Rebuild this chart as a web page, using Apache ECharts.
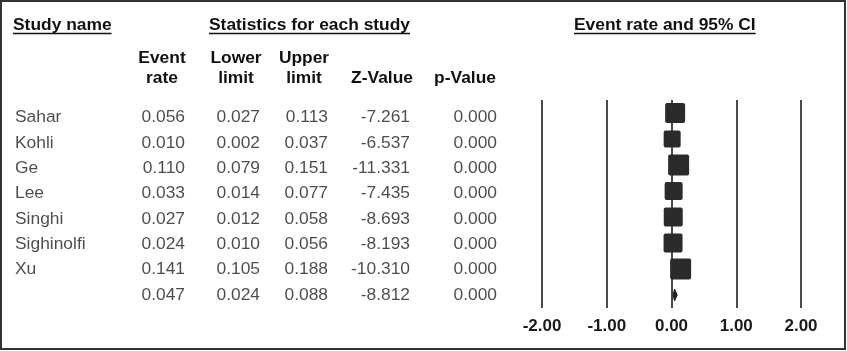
<!DOCTYPE html>
<html>
<head>
<meta charset="utf-8">
<script src="https://cdn.jsdelivr.net/npm/echarts@6/dist/echarts.min.js"></script>
<style>
  html, body { margin: 0; padding: 0; background: #fff; }
  #chart { width: 847px; height: 351px; }
</style>
</head>
<body>
<div id="chart"></div>
<script>
// study rows
const studies = ['Sahar', 'Kohli', 'Ge', 'Lee', 'Singhi', 'Sighinolfi', 'Xu']
const eventRate = [0.056, 0.010, 0.110, 0.033, 0.027, 0.024, 0.141]
const lowerLimit = [0.027, 0.002, 0.079, 0.014, 0.012, 0.010, 0.105]
const upperLimit = [0.113, 0.037, 0.151, 0.077, 0.058, 0.056, 0.188]
const zValue = [-7.261, -6.537, -11.331, -7.435, -8.693, -8.193, -10.310]
const pValue = [0.000, 0.000, 0.000, 0.000, 0.000, 0.000, 0.000]
// relative box weight of each study
const weights = [1.0, 0.85, 1.05, 0.9, 0.95, 0.95, 1.05]

// pooled estimate (last row)
const pooledRate = 0.047
const pooledLower = 0.024
const pooledUpper = 0.088
const pooledZ = -8.812
const pooledP = 0.000

const xTicks = [-2, -1, 0, 1, 2]

const FONT = '"Liberation Sans", Arial, sans-serif'
const FS = 17.4
const BOX = 20

const rows = studies.concat([''])
const chart = echarts.init(document.getElementById('chart'))

function measure(text, weight) {
  const ctx = document.createElement('canvas').getContext('2d')
  ctx.font = weight + ' ' + FS + 'px ' + FONT
  return ctx.measureText(text).width
}

function textEl(text, x, y, align) {
  return {
    type: 'text', x: x, y: y,
    style: {
      text: text, font: 'bold ' + FS + 'px ' + FONT, fill: '#111',
      textAlign: align, align: align, textVerticalAlign: 'middle', verticalAlign: 'middle'
    }
  }
}

function underlined(text, x, y) {
  const w = measure(text, 'bold')
  return [
    textEl(text, x, y, 'left'),
    { type: 'line', shape: { x1: x, y1: y + 8.5, x2: x + w, y2: y + 8.5 }, style: { stroke: '#111', lineWidth: 1.5 } }
  ]
}

// one label column of the table
function column(values, x, align, fmt) {
  return {
    type: 'scatter',
    xAxisIndex: 0, yAxisIndex: 0,
    symbolSize: 0,
    silent: true,
    data: values.map((v, i) => [x, i, v]),
    label: {
      show: true,
      position: [0, 0],
      align: align,
      verticalAlign: 'middle',
      fontFamily: FONT,
      fontSize: FS,
      color: '#1e1e1e',
      formatter: p => fmt(p.data[2])
    }
  }
}

const f3 = v => (v === null ? '' : v.toFixed(3))

const graphics = [].concat(
  underlined('Study name', 13, 25),
  underlined('Statistics for each study', 209, 25),
  underlined('Event rate and 95% CI', 574, 25),
  [
    textEl('Event', 162, 58, 'center'), textEl('rate', 162, 78, 'center'),
    textEl('Lower', 236, 58, 'center'), textEl('limit', 236, 78, 'center'),
    textEl('Upper', 304, 58, 'center'), textEl('limit', 304, 78, 'center'),
    textEl('Z-Value', 382, 78, 'center'),
    textEl('p-Value', 465, 78, 'center'),
    { type: 'rect', shape: { x: 1, y: 1, width: 844, height: 348 }, style: { fill: 'none', stroke: '#333', lineWidth: 2 }, z: 10 }
  ]
)

const option = {
  animation: false,
  backgroundColor: '#fff',
  graphic: graphics,
  grid: [
    { left: 0, right: 0, top: 105, height: 202.4 },
    { left: 542, right: 46, top: 100, height: 208 }
  ],
  xAxis: [
    { gridIndex: 0, type: 'value', min: 0, max: 847, show: false },
    {
      gridIndex: 1, type: 'value',
      min: xTicks[0], max: xTicks[xTicks.length - 1], interval: 1,
      axisLine: { show: false },
      axisTick: { show: false },
      axisLabel: {
        margin: 10,
        fontFamily: FONT, fontSize: 17, fontWeight: 'bold', color: '#1a1a1a',
        formatter: v => v.toFixed(2)
      },
      splitLine: { show: true, lineStyle: { color: '#4a4a4a', width: 2 } }
    }
  ],
  yAxis: [
    { gridIndex: 0, type: 'category', data: rows, inverse: true, show: false },
    { gridIndex: 1, type: 'category', data: rows, inverse: true, show: false }
  ],
  series: [
    column(rows, 15, 'left', v => v),
    column(eventRate.concat([pooledRate]), 185, 'right', f3),
    column(lowerLimit.concat([pooledLower]), 260, 'right', f3),
    column(upperLimit.concat([pooledUpper]), 328, 'right', f3),
    column(zValue.concat([pooledZ]), 410, 'right', f3),
    column(pValue.concat([pooledP]), 497, 'right', f3),
    {
      type: 'custom',
      xAxisIndex: 1, yAxisIndex: 1,
      silent: true,
      data: studies.map((s, i) => [i, eventRate[i], lowerLimit[i], upperLimit[i], weights[i]]),
      encode: { y: 0, x: [1, 2, 3] },
      renderItem: function (params, api) {
        const row = api.value(0)
        const c = api.coord([api.value(1), row])
        const lo = api.coord([api.value(2), row])
        const hi = api.coord([api.value(3), row])
        const s = api.value(4) * BOX
        return {
          type: 'group',
          children: [
            { type: 'line', shape: { x1: lo[0], y1: c[1], x2: hi[0], y2: c[1] }, style: { stroke: '#222', lineWidth: 1 } },
            { type: 'rect', shape: { x: c[0] - s / 2, y: c[1] - s / 2, width: s, height: s, r: 2 }, style: { fill: '#2b2b2b' } }
          ]
        }
      }
    },
    {
      type: 'custom',
      xAxisIndex: 1, yAxisIndex: 1,
      silent: true,
      data: [[studies.length, pooledRate, pooledLower, pooledUpper]],
      encode: { y: 0, x: [1, 2, 3] },
      renderItem: function (params, api) {
        const row = api.value(0)
        const c = api.coord([api.value(1), row])
        const lo = api.coord([api.value(2), row])
        const hi = api.coord([api.value(3), row])
        const h = 6
        return {
          type: 'polygon',
          shape: { points: [[lo[0], c[1]], [c[0], c[1] - h], [hi[0], c[1]], [c[0], c[1] + h]] },
          style: { fill: '#222', stroke: '#222', lineWidth: 1 }
        }
      }
    }
  ]
}

chart.setOption(option)
</script>
</body>
</html>
